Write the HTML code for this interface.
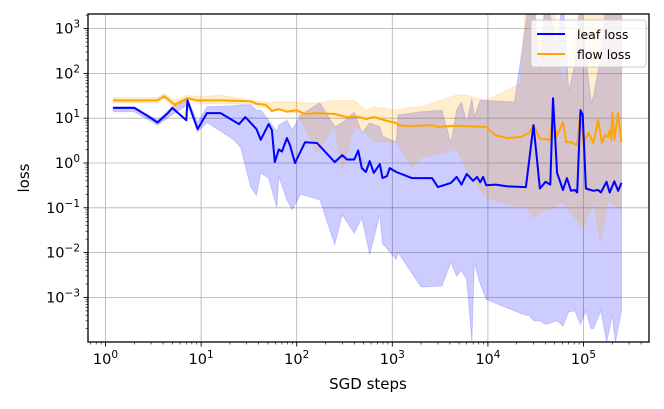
<!DOCTYPE html>
<html><head><meta charset="utf-8"><style>
body{margin:0;background:#fff;}
svg{display:block;font-family:"DejaVu Sans","Liberation Sans",sans-serif;}
</style></head><body>
<svg id="chart" width="664" height="409" viewBox="0 0 664 409">
<defs><clipPath id="clip"><rect x="88" y="14" width="561" height="328"/></clipPath></defs>
<g id="grid"></g>
<g id="bands" clip-path="url(#clip)"></g>
<g id="lines" clip-path="url(#clip)"></g>
<rect x="88" y="14" width="561" height="328" fill="none" stroke="#000" stroke-width="1.3"/>
<g id="axes"></g>
<text x="368" y="389" font-size="15" text-anchor="middle">SGD steps</text>
<text x="0" y="0" font-size="15" text-anchor="middle" transform="translate(29,178) rotate(-90)">loss</text>
<g>
<rect x="531" y="20" width="115" height="47" rx="3" fill="#fff" fill-opacity="0.8" stroke="#ccc"/>
<line x1="537" y1="34" x2="565" y2="34" stroke="#0000ff" stroke-width="2"/>
<text x="577" y="39" font-size="12.5">leaf loss</text>
<line x1="537" y1="54" x2="565" y2="54" stroke="orange" stroke-width="2"/>
<text x="577" y="59" font-size="12.5">flow loss</text>
</g>
</svg>
<script>
const leafSteps=[1.2,2,2.8,3.5,4.5,5,7,7.2,8.5,9.2,11.5,16,25,29,38,42,51,55,59,65,70,79,85,96,122,163,250,300,335,400,440,480,530,580,640,740,790,880,940,1100,1600,2600,3000,4100,4700,5300,6000,7000,7700,8300,8900,9600,12000,16000,25000,30000,35000,40000,45000,48000,53000,61000,67000,74000,81000,86000,93000,98000,106000,127000,142000,152000,174000,188000,210000,230000,250000];
const leafLoss=[17,17,11,8,13,17,9,25,9,5.7,13,13,7.4,10.6,5.7,3.3,7.4,5.4,1.05,2,1.8,3.6,2.5,1,2.9,2.8,1.05,1.5,1.2,1.2,1.9,0.77,0.63,1.1,0.6,0.95,0.46,0.51,0.77,0.63,0.46,0.46,0.29,0.36,0.49,0.33,0.57,0.4,0.49,0.37,0.49,0.32,0.33,0.3,0.29,7,0.27,0.38,0.33,28,0.6,0.25,0.46,0.24,0.25,0.22,15,12,0.27,0.24,0.25,0.22,0.38,0.22,0.39,0.24,0.36];
const flowSteps=[1.2,3.5,4.1,5.3,7.2,9.2,16,33,38,47,55,65,79,100,122,163,250,335,440,530,640,880,1100,1150,1500,2600,3000,4700,9500,12000,16000,22000,27000,30000,35000,45000,48000,52000,61000,66000,74000,86000,93000,100000,113000,127000,142000,156000,168000,180000,188000,195000,200000,210000,230000,250000];
const flowLoss=[25,25,31,20,28,25,25,24,21,20,14.5,16,14,15,12.4,13,12.4,10.6,10.8,9.6,10.6,8.7,7.8,7,6.6,7,6.4,6.8,6.4,4.2,3.6,3.8,4.7,7,3.5,3.3,13.7,3.8,8.2,2.9,2.9,2.5,15,2.8,4.7,2.8,9.1,2.8,4.2,3.8,5.4,3.3,13.7,3.3,13,2.9];
const leafBandSteps=[1.2,2,3.5,5,7.2,9.2,11.5,22,26,33,38,42,51,62,65,79,90,110,175,250,300,400,480,580,740,790,1100,1150,2000,3300,4100,4700,5300,6000,6800,7200,8300,9600,19000,25000,27000,30000,35000,40000,53000,61000,70000,81000,93000,106000,120000,127000,152000,175000,200000,215000,250000];
const leafLo=[14,14,7,12,20,5,8,3.3,2.2,0.29,0.19,0.6,0.45,0.1,0.5,0.15,0.09,0.2,0.15,0.015,0.07,0.027,0.06,0.009,0.07,0.016,0.007,0.01,0.0017,0.0018,0.006,0.003,0.004,0.0025,0.0001,0.006,0.002,0.0009,0.0005,0.0004,0.0004,0.0003,0.0003,0.00025,0.0003,0.00023,0.00048,0.0005,0.00025,0.0005,0.0002,0.0002,0.0005,0.0001,0.0004,0.0001,0.0005];
const leafHi=[18,18,9,18,28,8,18,19,20,20,15,15,9,5,7,9,5.5,12,22,6.4,8,13.7,4.7,7.8,6.4,4,2.9,11.8,14,15,2.8,15,23,8,28,10.6,25,25,23,1300,5000,5000,120,5000,480,5000,42,150,5000,250,23,30,250,5000,5000,5000,5000];
const flowBandSteps=[1.2,3.5,4.1,5.3,7.2,10,16,33,47,100,122,163,250,300,400,530,640,1100,1600,2000,4700,6000,9500,22000,25000,30000,35000,40000,48000,60000,100000,127000,150000,180000,250000];
const flowLo=[22,22,27,17,25,21,21,21,17,13,6,1.7,6.4,0.7,6.4,4.7,3,2.9,0.8,1.3,2,0.7,0.17,0.1,0.1,0.06,0.08,0.09,0.1,0.14,0.035,0.14,0.016,0.14,0.09];
const flowHi=[29,29,36,25,33,30,33,25,23,23,22,22,25,25,25,15,18,15,18,18,33,33,25,60,5000,5000,330,5000,5000,60,5000,5000,5000,5000,5000];

const X=s=>105.5+95.6*Math.log10(s);
const Y=v=>163-44.8*Math.log10(v);
const NS='http://www.w3.org/2000/svg';
function mk(tag,parent,attrs){const e=document.createElementNS(NS,tag);for(const k in attrs)e.setAttribute(k,attrs[k]);parent.appendChild(e);return e;}
const grid=document.getElementById('grid'),axes=document.getElementById('axes'),bands=document.getElementById('bands'),lines=document.getElementById('lines');
const xTicks=[0,1,2,3,4,5], yTicks=[-3,-2,-1,0,1,2,3];
xTicks.forEach(p=>{const x=X(Math.pow(10,p));
 const g=mk('line',grid,{x1:x,x2:x,y1:14,y2:342,stroke:'#b0b0b0','stroke-width':0.8});
 
 
 const t=mk('line',axes,{x1:x,x2:x,y1:342,y2:346.5,stroke:'#000','stroke-width':0.9});
 
 
 const l=mk('text',axes,{x:x,y:364,'font-size':14.5,'text-anchor':'middle'});
 l.innerHTML='10<tspan dy="-6" font-size="10.5">'+p+'</tspan>';
 
 
});
for(let p=-1;p<=5;p++)for(let m=2;m<=9;m++){const s=m*Math.pow(10,p);const x=X(s);if(x<88||x>649)continue;
 const t=mk('line',axes,{x1:x,x2:x,y1:342,y2:344.5,stroke:'#000','stroke-width':0.6});
 
 }
yTicks.forEach(p=>{const y=Y(Math.pow(10,p));
 const g=mk('line',grid,{x1:88,x2:649,y1:y,y2:y,stroke:'#b0b0b0','stroke-width':0.8});
 
 
 const t=mk('line',axes,{x1:83.5,x2:88,y1:y,y2:y,stroke:'#000','stroke-width':0.9});
 
 
 const l=mk('text',axes,{x:80,y:y+5,'font-size':14.5,'text-anchor':'end'});
 l.innerHTML='10<tspan dy="-6" font-size="10.5">'+(p<0?'\u2212'+(-p):p)+'</tspan>';
 
 
});
for(let p=-5;p<=3;p++)for(let m=2;m<=9;m++){const y=Y(m*Math.pow(10,p));if(y<14||y>342)continue;
 const t=mk('line',axes,{x1:85.5,x2:88,y1:y,y2:y,stroke:'#000','stroke-width':0.6});
 
 }
function band(steps,lo,hi,color,name){
 let d='M'+steps.map((s,i)=>X(s).toFixed(1)+','+Y(hi[i]).toFixed(1)).join('L');
 for(let i=steps.length-1;i>=0;i--)d+='L'+X(steps[i]).toFixed(1)+','+Y(lo[i]).toFixed(1);
 const p=mk('path',bands,{d:d+'Z',fill:color,'fill-opacity':0.2,stroke:color,'stroke-opacity':0.15,'stroke-width':1});
 
 }
function line(steps,vals,color,name){
 const p=mk('polyline',lines,{points:steps.map((s,i)=>X(s).toFixed(1)+','+Y(vals[i]).toFixed(1)).join(' '),fill:'none',stroke:color,'stroke-width':2,'stroke-linejoin':'round'});
 
 }
band(leafBandSteps,leafLo,leafHi,'#0000ff','leaf-loss-band');
band(flowBandSteps,flowLo,flowHi,'#ffa500','flow-loss-band');
line(flowSteps,flowLoss,'#ffa500','flow-loss-line');
line(leafSteps,leafLoss,'#0000ff','leaf-loss-line');
</script>
</body></html>
